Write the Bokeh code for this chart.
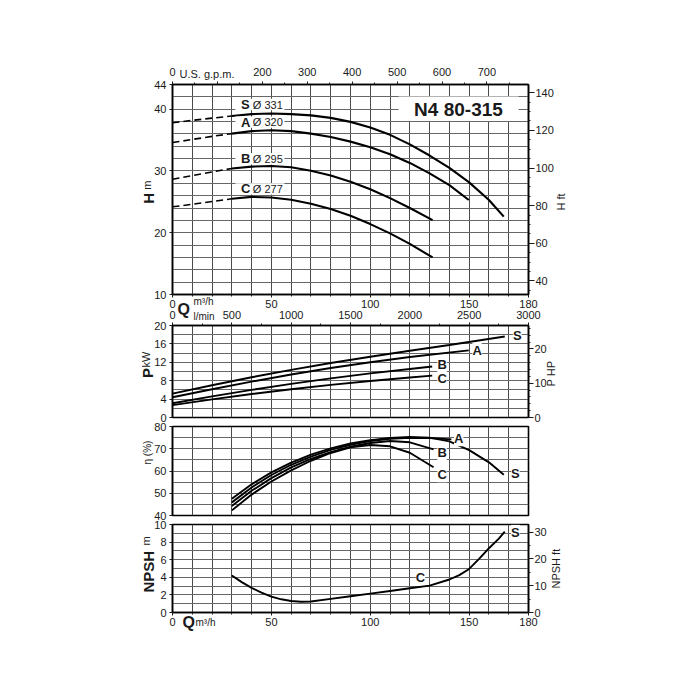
import math
from bokeh.plotting import figure
from bokeh.models import Range1d, LinearAxis, FixedTicker, Label, Grid
from bokeh.layouts import column
from bokeh.embed import file_html
from bokeh.resources import INLINE

# ---------------- data ----------------
# Head H [m] vs flow Q [m3/h]
Q_DASH = [0, 10, 20, 30]
H_S_DASH = [37.8, 38.2, 38.55, 38.9]
H_A_DASH = [34.6, 35.1, 35.6, 36.05]
H_B_DASH = [28.65, 29.25, 29.85, 30.4]
H_C_DASH = [24.2, 24.6, 25.05, 25.5]

Q_H_S = [30, 40, 50, 60, 70, 80, 90, 100, 110, 120, 130, 140, 150, 160, 167.5]
H_S = [38.9, 39.2, 39.3, 39.2, 39.0, 38.6, 37.95, 37.05, 35.85, 34.3, 32.5, 30.5, 28.15, 25.3, 22.6]
Q_H_A = [30, 40, 50, 60, 70, 80, 90, 100, 110, 120, 130, 140, 149.8]
H_A = [36.05, 36.45, 36.6, 36.45, 36.05, 35.5, 34.75, 33.85, 32.7, 31.3, 29.6, 27.7, 25.3]
Q_H_B = [30, 40, 50, 60, 70, 80, 90, 100, 110, 120, 131.5]
H_B = [30.4, 30.7, 30.8, 30.6, 30.05, 29.25, 28.25, 27.05, 25.6, 24.0, 22.05]
Q_H_C = [30, 40, 50, 60, 70, 80, 90, 100, 110, 120, 131.5]
H_C = [25.5, 25.8, 25.7, 25.35, 24.7, 23.85, 22.75, 21.4, 19.9, 18.2, 16.0]

IMPELLERS = ["S", "A", "B", "C"]
DIAMETERS = ["Ø 331", "Ø 320", "Ø 295", "Ø 277"]
TITLE = "N4 80-315"

# Power P [kW]
Q_P_S = [0, 20, 40, 60, 80, 100, 120, 140, 168]
P_S = [5.2, 7.0, 8.75, 10.35, 11.85, 13.2, 14.5, 15.75, 17.6]
Q_P_A = [0, 20, 40, 60, 80, 100, 120, 149.8]
P_A = [4.4, 6.15, 7.8, 9.35, 10.75, 12.0, 13.15, 14.6]
Q_P_B = [0, 20, 40, 60, 80, 100, 120, 131.3]
P_B = [3.1, 4.6, 6.0, 7.3, 8.5, 9.6, 10.55, 11.1]
Q_P_C = [0, 20, 40, 60, 80, 100, 120, 131.3]
P_C = [2.7, 3.95, 5.1, 6.15, 7.1, 7.95, 8.7, 9.1]

# Efficiency eta [%]
Q_E_S = [30, 40, 50, 60, 70, 80, 90, 100, 110, 120, 130, 140, 150, 160, 167.5]
E_S = [47.5, 54.0, 59.4, 63.8, 67.4, 70.2, 72.4, 73.9, 74.9, 75.3, 75.0, 73.3, 69.4, 63.9, 58.3]
Q_E_A = [30, 40, 50, 60, 70, 80, 90, 100, 110, 120, 130, 141]
E_A = [45.9, 52.6, 58.2, 62.8, 66.5, 69.5, 71.8, 73.5, 74.5, 74.9, 74.8, 74.2]
Q_E_B = [30, 40, 50, 60, 70, 80, 90, 100, 110, 120, 132]
E_B = [44.3, 51.1, 56.8, 61.6, 65.4, 68.5, 70.9, 72.6, 73.5, 72.9, 69.7]
Q_E_C = [30, 40, 50, 60, 70, 80, 90, 100, 110, 120, 132]
E_C = [42.3, 49.4, 55.3, 60.3, 64.6, 68.1, 70.6, 71.7, 71.1, 68.2, 61.7]

# NPSH [m]
Q_N = [30, 35, 40, 45, 50, 55, 60, 65, 70, 80, 90, 100, 110, 120, 130, 140, 145, 150, 155, 160, 165, 168]
NPSH = [4.2, 3.45, 2.8, 2.25, 1.8, 1.5, 1.3, 1.22, 1.25, 1.55, 1.85, 2.15, 2.45, 2.75, 3.05, 3.75, 4.25,
        4.95, 6.1, 7.3, 8.4, 9.2]

# tick values
Q_MAJOR = [0, 50, 100, 150, 180]
Q_GRID = list(range(0, 181, 10))
H_TICKS = [10, 20, 30, 40, 44]
H_GRID = list(range(10, 45, 2))
HFT_TICKS = [40, 60, 80, 100, 120, 140]
GPM_TICKS = [0, 100, 200, 300, 400, 500, 600, 700]
LPM_TICKS = [0, 500, 1000, 1500, 2000, 2500, 3000]
P_TICKS = [0, 4, 8, 12, 16, 20]
P_GRID = list(range(0, 21, 2))
HP_TICKS = [0, 10, 20]
E_TICKS = [40, 50, 60, 70, 80]
E_GRID = list(range(40, 81, 5))
N_TICKS = [0, 2, 4, 6, 8, 10]
N_GRID = list(range(0, 11, 1))
NFT_TICKS = [0, 10, 20, 30]

# unit conversions
M3H_PER_GPM = 0.2271247
M_PER_FT = 0.3048
KW_PER_HP = 0.7457
LPM_PER_M3H = 1000.0 / 60.0

FONT = "Liberation Sans"
INK = "#1a1a1a"
W = 680
LEFT = 172
FRAME_W = 356


def make_fig(height, top, bottom, yr, margin=None):
    kw = {}
    if margin is not None:
        kw["margin"] = margin
    p = figure(width=W, height=height, x_range=Range1d(0, 180), y_range=Range1d(*yr),
               output_backend="svg", toolbar_location=None,
               x_axis_location=None, y_axis_location=None,
               min_border_left=LEFT, min_border_right=W - LEFT - FRAME_W,
               min_border_top=top, min_border_bottom=bottom, **kw)
    p.center = [r for r in p.center if not isinstance(r, Grid)]
    p.background_fill_alpha = 0
    p.border_fill_alpha = 0
    p.outline_line_color = "black"
    p.outline_line_width = 1.6
    return p


def add_grid(p, xt, yt):
    p.add_layout(Grid(dimension=0, ticker=FixedTicker(ticks=xt), grid_line_color="#4a4a4a",
                      grid_line_width=1), "center")
    p.add_layout(Grid(dimension=1, ticker=FixedTicker(ticks=yt), grid_line_color="#666666",
                      grid_line_width=1), "center")


def style_axis(ax, ticks, minor=None, overrides=None, tick_out=4, standoff=3):
    ax.ticker = FixedTicker(ticks=ticks, minor_ticks=minor or [])
    ax.major_label_text_font = FONT
    ax.major_label_text_font_size = "11px"
    ax.major_label_text_color = INK
    ax.axis_line_color = "black"
    ax.axis_line_width = 1.5
    ax.major_tick_in = 0
    ax.major_tick_out = tick_out
    ax.minor_tick_in = 0
    ax.minor_tick_out = 2
    ax.major_tick_line_color = INK
    ax.minor_tick_line_color = INK
    ax.major_label_standoff = standoff
    if overrides:
        ax.major_label_overrides = overrides
    return ax


def lab(p, x, y, text, size="12px", bold=False, align="center", baseline="middle",
        angle=0.0, bg=None):
    l = Label(x=x, y=y, text=text, text_font=FONT, text_font_size=size,
              text_font_style="bold" if bold else "normal", text_align=align,
              text_baseline=baseline, angle=angle, text_color=INK)
    if bg:
        l.background_fill_color = bg
    p.add_layout(l)


V = math.pi / 2

# ---------------- text overlay (titles outside the frames), page pixels; separate root ----------------
OV_H = 650
ov = figure(width=W, height=OV_H, x_range=Range1d(0, W), y_range=Range1d(OV_H, 0),
            output_backend="svg", toolbar_location=None, x_axis_location=None,
            y_axis_location=None, min_border=0)
ov.center = []
ov.outline_line_color = None
ov.background_fill_alpha = 0
ov.border_fill_alpha = 0
lab(ov, 179, 73, "U.S. g.p.m.", size="11px", align="left")
lab(ov, 183.3, 308.5, "Q", size="16px", bold=True)
lab(ov, 193, 301, "m³/h", size="10px", align="left")
lab(ov, 193, 316, "l/min", size="10px", align="left")
lab(ov, 148.3, 203.3, "H", size="15px", bold=True, align="left", baseline="alphabetic", angle=V)
lab(ov, 146, 189.3, "m", size="11px", align="left", baseline="alphabetic", angle=V)
lab(ov, 560.7, 210, "H ft", size="11px", align="left", baseline="alphabetic", angle=V)
lab(ov, 147, 377.5, "P", size="15px", bold=True, align="left", baseline="alphabetic", angle=V)
lab(ov, 145.5, 367, "kW", size="11px", align="left", baseline="alphabetic", angle=V)
lab(ov, 550, 386, "P HP", size="11px", align="left", baseline="alphabetic", angle=V)
lab(ov, 147, 464, "η (%)", size="10px", align="left", baseline="alphabetic", angle=V)
lab(ov, 147.5, 592, "NPSH", size="15px", bold=True, align="left", baseline="alphabetic", angle=V)
lab(ov, 145, 545, "m", size="11px", align="left", baseline="alphabetic", angle=V)
lab(ov, 555, 588, "NPSH ft", size="11px", align="left", baseline="alphabetic", angle=V)
lab(ov, 188.3, 622, "Q", size="16px", bold=True)
lab(ov, 195, 622, "m³/h", size="10px", align="left")

# ---------------- H panel ----------------
p1 = make_fig(318, 84, 24, (10, 44))
add_grid(p1, Q_GRID, H_GRID)
p1.extra_x_ranges = {"gpm": Range1d(0, 180 / M3H_PER_GPM)}
p1.extra_y_ranges = {"ft": Range1d(10 / M_PER_FT, 44 / M_PER_FT)}
p1.add_layout(style_axis(LinearAxis(), H_TICKS, tick_out=3), "left")
p1.add_layout(style_axis(LinearAxis(), Q_MAJOR, Q_GRID, tick_out=3, standoff=2), "below")
p1.add_layout(style_axis(LinearAxis(x_range_name="gpm"), GPM_TICKS, list(range(0, 751, 50)),
                         overrides={100: ""}, tick_out=3, standoff=6), "above")
p1.add_layout(style_axis(LinearAxis(y_range_name="ft"), HFT_TICKS, list(range(35, 145, 5)),
                         tick_out=6, standoff=1), "right")

for hd in [H_S_DASH, H_A_DASH, H_B_DASH, H_C_DASH]:
    p1.line(Q_DASH, hd, line_color="black", line_width=1.6, line_dash="7 4")
for qq, hh in [(Q_H_S, H_S), (Q_H_A, H_A), (Q_H_B, H_B), (Q_H_C, H_C)]:
    p1.line(qq, hh, line_color="black", line_width=2.1)

# title box and curve label boxes
p1.quad(left=[114.3], right=[175.0], top=[42.06], bottom=[38.09], fill_color="white", line_color=None)
lab(p1, 144.6, 40.0, TITLE, size="19px", bold=True)
H_LABEL_Y = [40.76, 37.9, 31.97, 27.1]
p1.quad(left=[31.8] * 4, right=[56.6] * 4, top=[y + 0.92 for y in H_LABEL_Y],
        bottom=[y - 0.92 for y in H_LABEL_Y], fill_color="white", line_color=None)
for name, dia, yy in zip(IMPELLERS, DIAMETERS, H_LABEL_Y):
    lab(p1, 34.6, yy, name, size="13px", bold=True, align="left")
    lab(p1, 40.6, yy, dia, size="11px", align="left")

# ---------------- P panel ----------------
p2 = make_fig(132, 26, 14, (0, 20), margin=(-19, 0, 0, 0))
add_grid(p2, Q_GRID, P_GRID)
p2.extra_x_ranges = {"lpm": Range1d(0, 180 * LPM_PER_M3H)}
p2.extra_y_ranges = {"hp": Range1d(0, 20 / KW_PER_HP)}
p2.add_layout(style_axis(LinearAxis(), P_TICKS, tick_out=3), "left")
p2.add_layout(style_axis(LinearAxis(x_range_name="lpm"), LPM_TICKS, list(range(0, 3001, 250)),
                         tick_out=3, standoff=4), "above")
p2.add_layout(style_axis(LinearAxis(y_range_name="hp"), HP_TICKS, list(range(0, 27, 2)),
                         tick_out=5, standoff=1), "right")
for qq, pp in [(Q_P_S, P_S), (Q_P_A, P_A), (Q_P_B, P_B), (Q_P_C, P_C)]:
    p2.line(qq, pp, line_color="black", line_width=1.9)
for name, x, y in zip(IMPELLERS, [174.3, 154.0, 136.3, 136.3], [17.83, 14.57, 11.46, 8.41]):
    lab(p2, x, y, name, size="13px", bold=True, bg="white")

# ---------------- eta panel ----------------
p3 = make_fig(117, 14, 14, (40, 80), margin=(-19, 0, 0, 0))
add_grid(p3, Q_GRID, E_GRID)
p3.add_layout(style_axis(LinearAxis(), E_TICKS, tick_out=3), "left")
for qq, ee in [(Q_E_C, E_C), (Q_E_B, E_B), (Q_E_A, E_A), (Q_E_S, E_S)]:
    p3.line(qq, ee, line_color="black", line_width=1.9)
for name, x, y in zip(IMPELLERS, [173.4, 144.7, 136.3, 136.3], [59.0, 74.47, 68.18, 58.3]):
    lab(p3, x, y, name, size="13px", bold=True, bg="white")

# ---------------- NPSH panel ----------------
p4 = make_fig(132, 14, 30, (0, 10), margin=(-19, 0, 0, 0))
add_grid(p4, Q_GRID, N_GRID)
p4.extra_y_ranges = {"ft": Range1d(0, 10 / M_PER_FT)}
p4.add_layout(style_axis(LinearAxis(), N_TICKS, tick_out=3), "left")
p4.add_layout(style_axis(LinearAxis(), Q_MAJOR, Q_GRID, tick_out=3, standoff=2), "below")
p4.add_layout(style_axis(LinearAxis(y_range_name="ft"), NFT_TICKS, list(range(0, 33, 5)),
                         tick_out=5, standoff=1), "right")
p4.line(Q_N, NPSH, line_color="black", line_width=1.9)
lab(p4, 125.4, 4.01, "C", size="13px", bold=True, bg="white")
lab(p4, 173.4, 9.13, "S", size="13px", bold=True, bg="white")

chart = column(p1, p2, p3, p4, margin=(-OV_H, 0, 0, 0))
open("out.html", "w").write(file_html([ov, chart], INLINE))
